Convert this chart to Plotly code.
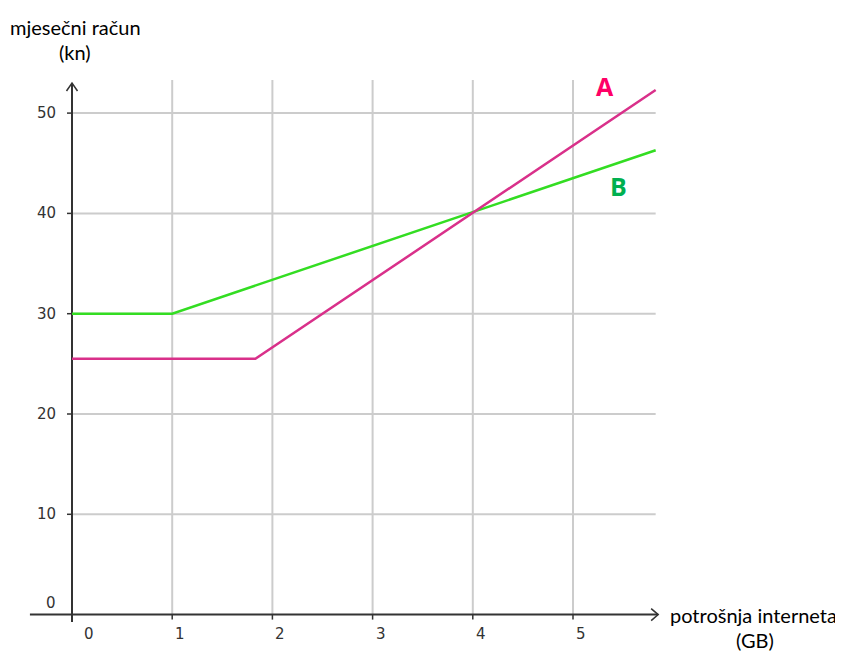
import plotly.graph_objects as go

# ---- data ----
x_ticks = [1, 2, 3, 4, 5]
x_tick_labels = ["1", "2", "3", "4", "5"]
y_ticks = [10, 20, 30, 40, 50]
y_tick_labels = ["10", "20", "30", "40", "50"]

plan_A_x = [0, 1.83, 5.825]
plan_A_y = [25.5, 25.5, 52.3]
plan_B_x = [0, 1.0, 5.825]
plan_B_y = [30, 30, 46.3]

x_axis_title = ["potrošnja interneta", "(GB)"]
y_axis_title = ["mjesečni račun", "(kn)"]

# ---- view (pixel -> data mapping; page has 8px body margin) ----
W, H = 843, 651
OFF = 8
px_x = 100.2      # pixels per x unit
px_y = 10.03      # pixels per y unit
x0_px, y0_px = 72 - OFF, 614.6 - OFF
xr = [-x0_px / px_x, (W - x0_px) / px_x]
yr = [-(H - y0_px) / px_y, y0_px / px_y]

x_end = 5.825
y_top = 53.3

fig = go.Figure()

grid_col = "#cccccc"
gx, gy = [], []
for v in x_ticks:
    gx += [v, v, None]
    gy += [0, y_top, None]
for v in y_ticks:
    gx += [0, x_end, None]
    gy += [v, v, None]
fig.add_trace(go.Scatter(x=gx, y=gy, mode="lines", line=dict(color=grid_col, width=2),
                         hoverinfo="skip", showlegend=False))

tx, ty = [], []
for v in x_ticks:
    tx += [v, v, None]
    ty += [0, -0.5, None]
for v in y_ticks:
    tx += [-0.05, 0, None]
    ty += [v, v, None]
fig.add_trace(go.Scatter(x=tx, y=ty, mode="lines", line=dict(color="#333333", width=1.5),
                         hoverinfo="skip", showlegend=False))

ax_col = "#333333"
fig.add_trace(go.Scatter(x=[-0.42, 5.85, None, 0, 0],
                         y=[0, 0, None, -0.75, 53.0],
                         mode="lines", line=dict(color=ax_col, width=2),
                         hoverinfo="skip", showlegend=False))
fig.add_trace(go.Scatter(x=[5.78, 5.85, 5.78, None, -0.055, 0, 0.055],
                         y=[0.6, 0, -0.6, None, 52.2, 53.0, 52.2],
                         mode="lines", line=dict(color=ax_col, width=1.5),
                         hoverinfo="skip", showlegend=False))

fig.add_trace(go.Scatter(x=plan_B_x, y=plan_B_y, mode="lines",
                         line=dict(color="#33dd22", width=2.5), name="B",
                         showlegend=False))
fig.add_trace(go.Scatter(x=plan_A_x, y=plan_A_y, mode="lines",
                         line=dict(color="#d9308a", width=2.5), name="A",
                         showlegend=False))

ann = []
tick_font = dict(family="DejaVu Sans", size=15, color="#333333")
for v, t in zip(x_ticks, x_tick_labels):
    ann.append(dict(x=v, y=0, text=t, showarrow=False, xanchor="left", yanchor="middle",
                    xshift=1, yshift=-19, font=tick_font))
ann.append(dict(x=0, y=0, text="0", showarrow=False, xanchor="left", yanchor="middle",
                xshift=10, yshift=-19, font=tick_font))
for v, t in zip(y_ticks, y_tick_labels):
    ann.append(dict(x=0, y=v, text=t, showarrow=False, xanchor="right", yanchor="middle",
                    xshift=-14, font=tick_font))
ann.append(dict(x=0, y=0, text="0", showarrow=False, xanchor="right", yanchor="middle",
                xshift=-14, yshift=12, font=tick_font))

title_font = dict(family="Lato", size=20, color="#000000")
ann.append(dict(x=0.03, y=58.6, text=y_axis_title[0], showarrow=False, xanchor="center",
                yanchor="middle", font=title_font))
ann.append(dict(x=0.03, y=56.1, text=y_axis_title[1], showarrow=False, xanchor="center",
                yanchor="middle", font=title_font))
ann.append(dict(x=5.95, y=0.0, text=x_axis_title[0], showarrow=False, xanchor="left",
                yanchor="middle", font=title_font))
ann.append(dict(x=6.82, y=-2.53, text=x_axis_title[1], showarrow=False, xanchor="center",
                yanchor="middle", font=title_font))

label_font = dict(family="Open Sans", size=25)
ann.append(dict(x=5.32, y=52.75, text="<b>A</b>", showarrow=False, xanchor="center",
                yanchor="middle", font=dict(label_font, color="#ff0066")))
ann.append(dict(x=5.45, y=42.78, text="<b>B</b>", showarrow=False, xanchor="center",
                yanchor="middle", font=dict(label_font, color="#00b050")))

fig.update_layout(
    width=W, height=H, margin=dict(l=0, r=0, t=0, b=0),
    paper_bgcolor="white", plot_bgcolor="white",
    xaxis=dict(range=xr, visible=False, fixedrange=True),
    yaxis=dict(range=yr, visible=False, fixedrange=True),
    annotations=ann,
)

fig.write_html("out.html")
